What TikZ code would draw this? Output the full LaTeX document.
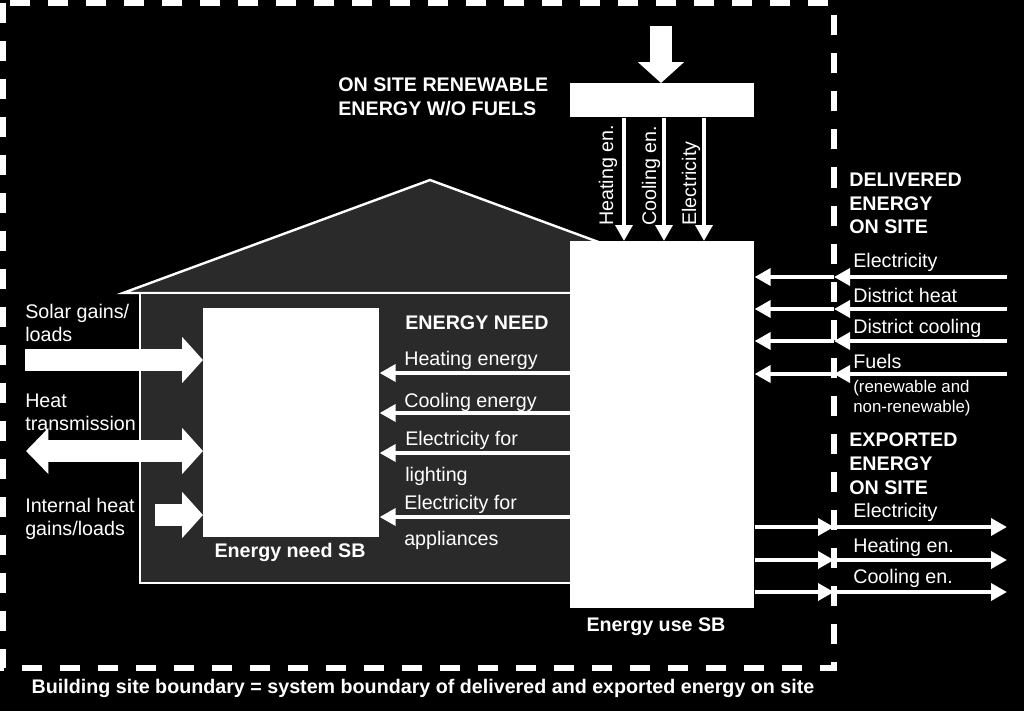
\documentclass[tikz,border=0pt]{standalone}
\usepackage{fontspec}
\setmainfont{Liberation Sans}
\usetikzlibrary{arrows.meta, positioning}

\definecolor{housegray}{RGB}{42,42,42}

\tikzset{
  txt/.style={text=white, inner sep=0, anchor=base west, font=\fontsize{14}{17}\selectfont},
  hdr/.style={txt, font=\fontsize{14}{17}\selectfont\bfseries},
  note/.style={txt, font=\fontsize{12}{14}\selectfont},
  whitebox/.style={fill=white, draw=none, inner sep=0, anchor=north west},
  thinarr/.style={white, line width=0.11cm, -{Triangle[length=0.4cm, width=0.42cm]}},
  fatarr/.style={white, line width=0.56cm, -{Triangle[length=0.52cm, width=1.12cm]}},
  fatboth/.style={white, line width=0.56cm, {Triangle[length=0.56cm, width=1.12cm]}-{Triangle[length=0.52cm, width=1.12cm]}}
}

\begin{document}
\begin{tikzpicture}[x=0.025cm, y=-0.025cm]
\useasboundingbox (0,0) rectangle (1024,711);
\fill[black] (0,0) rectangle (1024,711);
% House
\filldraw[fill=housegray, draw=white, line width=0.06cm] (123,293) -- (430,180) -- (737,293) -- cycle;
\filldraw[fill=housegray, draw=white, line width=0.06cm] (140,293) rectangle (720,583);
% Site boundary
\draw[white, line width=0.15cm, dash pattern=on 0.5cm off 0.45cm] (3,3) rectangle (834,668);
\coordinate (bnd) at (834,0);
% Boxes
\node[whitebox, minimum width=4.4cm, minimum height=5.725cm] (need) at (203,308) {};
\node[whitebox, minimum width=4.6cm, minimum height=9.175cm] (use) at (570,241) {};
\node[whitebox, minimum width=4.6cm, minimum height=0.85cm] (ren) at (570,83) {};
\node[hdr, anchor=base] (needlbl) at (290,557) {Energy need SB};
\node[hdr, anchor=base] (uselbl) at (656,631) {Energy use SB};
\node[hdr, anchor=base] (site) at (423,693) {Building site boundary = system boundary of delivered and exported energy on site};
% On site renewable
\coordinate (sun) at (661,26);
\coordinate (vh) at (624,0);
\coordinate (vc) at (664,0);
\coordinate (ve) at (704,0);
\draw[fatarr] (sun) -- (sun |- ren.north);
\draw[thinarr] (ren.south -| vh) -- (use.north -| vh);
\draw[thinarr] (ren.south -| vc) -- (use.north -| vc);
\draw[thinarr] (ren.south -| ve) -- (use.north -| ve);
\node[hdr] (rt1) at (338,91) {ON SITE RENEWABLE};
\node[hdr] (rt2) at (338,115) {ENERGY W/O FUELS};
\node[txt, rotate=90] (r1) at (613,226) {Heating en.};
\node[txt, rotate=90] (r2) at (656,226) {Cooling en.};
\node[txt, rotate=90] (r3) at (696,226) {Electricity};
% Energy need
\coordinate (hn) at (0,373);
\coordinate (cn) at (0,413);
\coordinate (ln) at (0,453);
\coordinate (pn) at (0,517);
\draw[thinarr] (use.west |- hn) -- (need.east |- hn);
\draw[thinarr] (use.west |- cn) -- (need.east |- cn);
\draw[thinarr] (use.west |- ln) -- (need.east |- ln);
\draw[thinarr] (use.west |- pn) -- (need.east |- pn);
\node[hdr] (en) at (405,329) {ENERGY NEED};
\node[txt] (n1) at (404,365) {Heating energy};
\node[txt] (n2) at (404,407) {Cooling energy};
\node[txt] (n3) at (405,445) {Electricity for};
\node[txt] (n4) at (405,481) {lighting};
\node[txt] (n5) at (404,509) {Electricity for};
\node[txt] (n6) at (404,545) {appliances};
% Gains and losses
\coordinate (solar) at (25,360);
\coordinate (trans) at (26,451);
\coordinate (intl) at (155,515);
\draw[fatarr] (solar) -- (solar -| need.west);
\draw[fatboth] (trans) -- (trans -| need.west);
\draw[fatarr] (intl) -- (intl -| need.west);
\node[txt] (s1) at (25,318) {Solar gains/};
\node[txt] (s2) at (25,341) {loads};
\node[txt] (h1) at (25,407) {Heat};
\node[txt] (h2) at (25,430) {transmission};
\node[txt] (i1) at (25,512) {Internal heat};
\node[txt] (i2) at (25,535) {gains/loads};
% Delivered energy
\coordinate (de1) at (1007,277);
\coordinate (de2) at (1007,309);
\coordinate (de3) at (1007,341);
\coordinate (de4) at (1007,374);
\draw[thinarr] (de1) -- (de1 -| bnd);
\draw[thinarr] (de1 -| bnd) -- (de1 -| use.east);
\draw[thinarr] (de2) -- (de2 -| bnd);
\draw[thinarr] (de2 -| bnd) -- (de2 -| use.east);
\draw[thinarr] (de3) -- (de3 -| bnd);
\draw[thinarr] (de3 -| bnd) -- (de3 -| use.east);
\draw[thinarr] (de4) -- (de4 -| bnd);
\draw[thinarr] (de4 -| bnd) -- (de4 -| use.east);
\node[hdr] (dt1) at (849,186) {DELIVERED};
\node[hdr] (dt2) at (849,210) {ENERGY};
\node[hdr] (dt3) at (849,233) {ON SITE};
\node[txt] (d1) at (853,267) {Electricity};
\node[txt] (d2) at (853,302) {District heat};
\node[txt] (d3) at (853,333) {District cooling};
\node[txt] (d4) at (853,368) {Fuels};
\node[note] (d5) at (853,392) {(renewable and};
\node[note] (d6) at (853,412) {non-renewable)};
% Exported energy
\coordinate (ex1) at (1007,527);
\coordinate (ex2) at (1007,560);
\coordinate (ex3) at (1007,592);
\draw[thinarr] (ex1 -| use.east) -- (ex1 -| bnd);
\draw[thinarr] (ex1 -| bnd) -- (ex1);
\draw[thinarr] (ex2 -| use.east) -- (ex2 -| bnd);
\draw[thinarr] (ex2 -| bnd) -- (ex2);
\draw[thinarr] (ex3 -| use.east) -- (ex3 -| bnd);
\draw[thinarr] (ex3 -| bnd) -- (ex3);
\node[hdr] (et1) at (849,446) {EXPORTED};
\node[hdr] (et2) at (849,470) {ENERGY};
\node[hdr] (et3) at (849,494) {ON SITE};
\node[txt] (e1) at (853,517) {Electricity};
\node[txt] (e2) at (853,552) {Heating en.};
\node[txt] (e3) at (853,583) {Cooling en.};
\end{tikzpicture}
\end{document}
